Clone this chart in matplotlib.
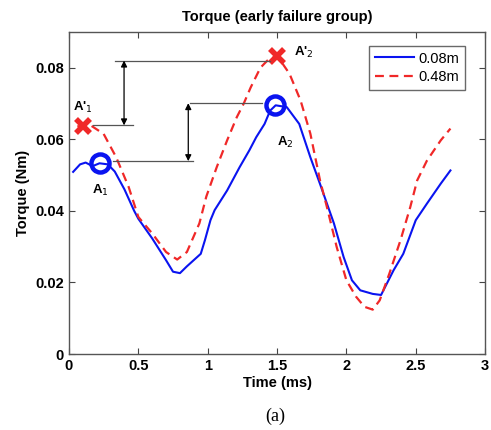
import matplotlib.pyplot as plt

# 0.08m serie (continua, azul)
t_blue = [0.03, 0.08, 0.12, 0.17, 0.22, 0.28, 0.33, 0.40, 0.47, 0.50, 0.60, 0.70, 0.75,
          0.80, 0.85, 0.95, 0.98, 1.02, 1.05, 1.14, 1.23, 1.30, 1.35, 1.41, 1.45,
          1.49, 1.57, 1.66, 1.74, 1.81, 1.91, 1.98, 2.04, 2.10, 2.19, 2.25, 2.34,
          2.41, 2.50, 2.58, 2.68, 2.75]
blue = [0.0509, 0.0530, 0.0535, 0.0525, 0.0533, 0.0530, 0.0510, 0.0460, 0.0400, 0.0378,
        0.0323, 0.0262, 0.0230, 0.0226, 0.0245, 0.0280, 0.0318, 0.0374, 0.0402,
        0.0457, 0.0522, 0.0569, 0.0606, 0.0643, 0.0680, 0.0695, 0.0690, 0.0643,
        0.0550, 0.0475, 0.0365, 0.0271, 0.0206, 0.0178, 0.0168, 0.0165, 0.0234,
        0.0280, 0.0374, 0.0420, 0.0476, 0.0513]

# 0.48m serie (discontinua, roja)
t_red = [0.06, 0.10, 0.16, 0.25, 0.34, 0.43, 0.50, 0.60, 0.70, 0.78, 0.85, 0.94,
         0.99, 1.065, 1.14, 1.21, 1.26, 1.31, 1.38, 1.43, 1.50, 1.59, 1.67, 1.74,
         1.81, 1.86, 1.93, 2.00, 2.07, 2.13, 2.19, 2.24, 2.31, 2.39, 2.46, 2.51,
         2.58, 2.68, 2.75]
red = [0.0636, 0.0638, 0.0638, 0.0615, 0.0550, 0.0467, 0.0383, 0.0337, 0.0285,
       0.0264, 0.0285, 0.0365, 0.0440, 0.0522, 0.0597, 0.0662, 0.0700, 0.0745,
       0.0800, 0.0820, 0.0834, 0.0783, 0.0708, 0.0616, 0.0485, 0.0410, 0.0299,
       0.0206, 0.0160, 0.0132, 0.0124, 0.0150, 0.0225, 0.0318, 0.0410, 0.0485,
       0.0540, 0.0597, 0.0630]

# puntos marcados
pico_azul = [(0.225, 0.0533), (1.485, 0.0697)]
pico_rojo = [(0.103, 0.0636), (1.497, 0.0834)]

plt.rcParams['font.family'] = ['Liberation Sans', 'DejaVu Sans']

fig = plt.figure(figsize=(4.91, 4.30), dpi=100)
ax = fig.add_axes([0.1405, 0.1767, 0.8475, 0.749])

ax.plot(t_blue, blue, color='#0a14f0', lw=1.5, label='0.08m')
ax.plot(t_red, red, color='#f02828', lw=1.6, ls=(0, (4, 2.5)), label='0.48m')

ax.plot([p[0] for p in pico_azul], [p[1] for p in pico_azul], 'o', ms=13,
        mfc='none', mec='#0a14f0', mew=3.2)
ax.plot([p[0] for p in pico_rojo], [p[1] for p in pico_rojo], 'x', ms=10,
        mec='#f02828', mew=4)

# lineas de referencia y flechas
gris = '#555555'
ax.plot([0.33, 1.45], [0.082, 0.082], color=gris, lw=0.9)
ax.plot([0.17, 0.465], [0.0639, 0.0639], color=gris, lw=0.9)
ax.plot([0.87, 1.39], [0.0701, 0.0701], color=gris, lw=0.9)
ax.plot([0.32, 0.895], [0.0539, 0.0539], color=gris, lw=0.9)
ax.annotate('', xy=(0.397, 0.0639), xytext=(0.397, 0.082),
            arrowprops=dict(arrowstyle='<|-|>', color='black', lw=0.9,
                            mutation_scale=9, shrinkA=0, shrinkB=0))
ax.annotate('', xy=(0.86, 0.0539), xytext=(0.86, 0.0701),
            arrowprops=dict(arrowstyle='<|-|>', color='black', lw=0.9,
                            mutation_scale=9, shrinkA=0, shrinkB=0))

ax.text(0.1, 0.0689, "A'$_1$", ha='center', va='center', fontsize=9.5, fontweight='bold')
ax.text(0.224, 0.0456, "A$_1$", ha='center', va='center', fontsize=9.5, fontweight='bold')
ax.text(1.69, 0.0843, "A'$_2$", ha='center', va='center', fontsize=9.5, fontweight='bold')
ax.text(1.557, 0.0592, "A$_2$", ha='center', va='center', fontsize=9.5, fontweight='bold')

ax.set_xlim(0, 3)
ax.set_ylim(0, 0.09)
ax.set_xticks([0, 0.5, 1, 1.5, 2, 2.5, 3])
ax.set_xticklabels(['0', '0.5', '1', '1.5', '2', '2.5', '3'])
ax.set_yticks([0, 0.02, 0.04, 0.06, 0.08])
ax.set_yticklabels(['0', '0.02', '0.04', '0.06', '0.08'])
ax.tick_params(direction='in', top=True, right=True, length=4, width=0.8,
               labelsize=10.5, colors='#444444', labelcolor='black')
for lbl in ax.get_xticklabels() + ax.get_yticklabels():
    lbl.set_fontweight('bold')
for s in ax.spines.values():
    s.set_color('#555555')
    s.set_linewidth(1.0)

ax.set_title('Torque (early failure group)', fontsize=10.5, fontweight='bold', pad=8)
ax.set_xlabel('Time (ms)', fontsize=10.5, fontweight='bold', labelpad=2)
ax.set_ylabel('Torque (Nm)', fontsize=10.5, fontweight='bold', labelpad=4)

leg = ax.legend(loc='upper right', fontsize=10.5, handlelength=2.7, borderpad=0.4,
                labelspacing=0.3, handletextpad=0.3, fancybox=False,
                bbox_to_anchor=(0.97, 0.98))
leg.get_frame().set_edgecolor('#444444')
leg.get_frame().set_linewidth(1.0)

fig.text(0.56, 0.031, '(a)', ha='center', va='center', fontsize=13,
         family=['Liberation Serif', 'DejaVu Serif'])

plt.savefig('out.png', dpi=100)
